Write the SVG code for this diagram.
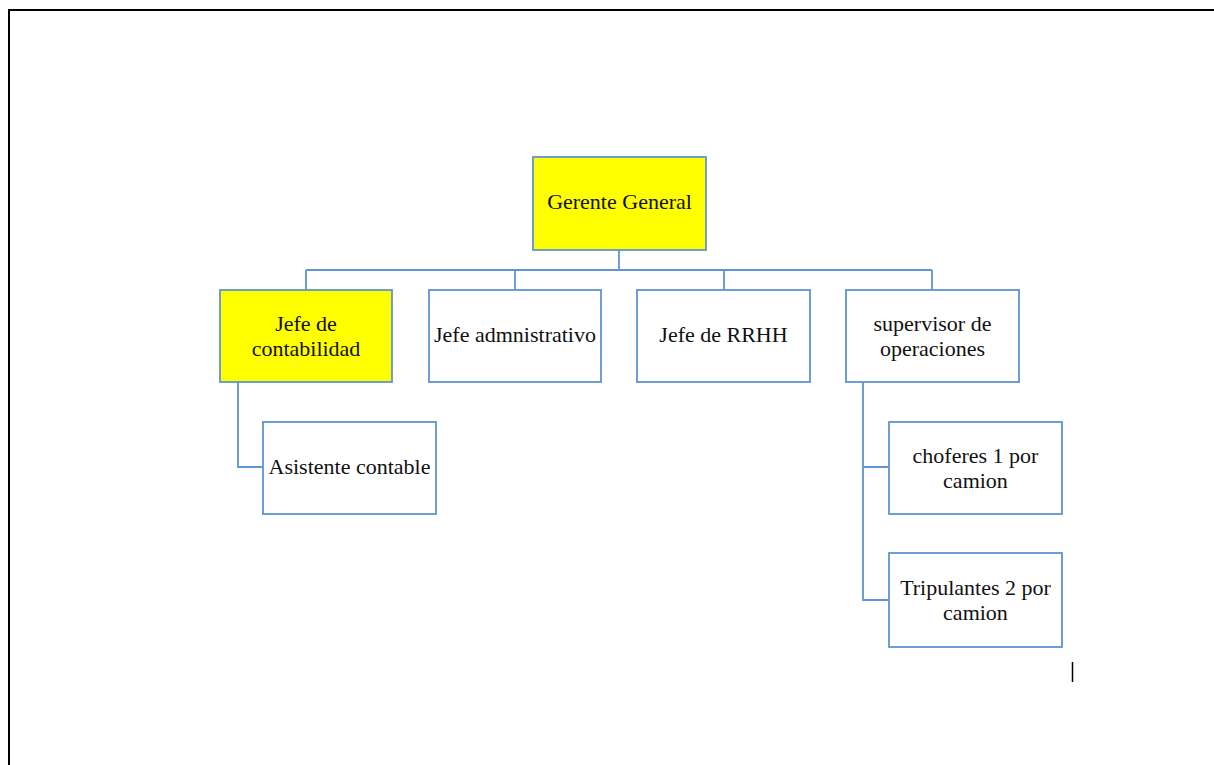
<svg xmlns="http://www.w3.org/2000/svg" width="1214" height="765" viewBox="0 0 1214 765">
  <style>
    .box { fill: #ffffff; stroke: #5f95d0; stroke-width: 1.8; }
    .hi { fill: #ffff00; }
    .lbl { font-family: "Liberation Serif", "Times New Roman", serif; font-size: 22px; fill: #111111; text-anchor: middle; }
    .wire { fill: none; stroke: #5f95d0; stroke-width: 1.8; }
  </style>
  <rect width="1214" height="765" fill="#ffffff"/>
  <!-- page frame -->
  <path d="M9 765 V10 H1214" fill="none" stroke="#000000" stroke-width="2"/>

  <!-- connectors -->
  <g id="connectors">
    <path class="wire" d="M619 250 V270 M306 270 H932 M306 270 V290 M515 270 V290 M724 270 V290 M932 270 V290"/>
    <path class="wire" d="M238 382 V467 H263"/>
    <path class="wire" d="M863 382 V600 H889 M863 467 H889"/>
  </g>

  <g id="gerente">
    <rect class="box hi" x="533" y="157" width="173" height="93"/>
    <text class="lbl" x="619.5" y="209">Gerente General</text>
  </g>
  <g id="jefe-contabilidad">
    <rect class="box hi" x="220" y="290" width="172" height="92"/>
    <text class="lbl" x="306" y="331">Jefe de</text>
    <text class="lbl" x="306" y="356">contabilidad</text>
  </g>
  <g id="jefe-administrativo">
    <rect class="box" x="429" y="290" width="172" height="92"/>
    <text class="lbl" x="515" y="342">Jefe admnistrativo</text>
  </g>
  <g id="jefe-rrhh">
    <rect class="box" x="637" y="290" width="173" height="92"/>
    <text class="lbl" x="723.5" y="342">Jefe de RRHH</text>
  </g>
  <g id="supervisor">
    <rect class="box" x="846" y="290" width="173" height="92"/>
    <text class="lbl" x="932.5" y="331">supervisor de</text>
    <text class="lbl" x="932.5" y="356">operaciones</text>
  </g>
  <g id="asistente">
    <rect class="box" x="263" y="422" width="173" height="92"/>
    <text class="lbl" x="349.5" y="474">Asistente contable</text>
  </g>
  <g id="choferes">
    <rect class="box" x="889" y="422" width="173" height="92"/>
    <text class="lbl" x="975.5" y="463">choferes 1 por</text>
    <text class="lbl" x="975.5" y="488">camion</text>
  </g>
  <g id="tripulantes">
    <rect class="box" x="889" y="553" width="173" height="94"/>
    <text class="lbl" x="975.5" y="595">Tripulantes 2 por</text>
    <text class="lbl" x="975.5" y="620">camion</text>
  </g>

  <!-- text cursor -->
  <line x1="1072.5" y1="662" x2="1072.5" y2="682" stroke="#000000" stroke-width="1.5"/>
</svg>
